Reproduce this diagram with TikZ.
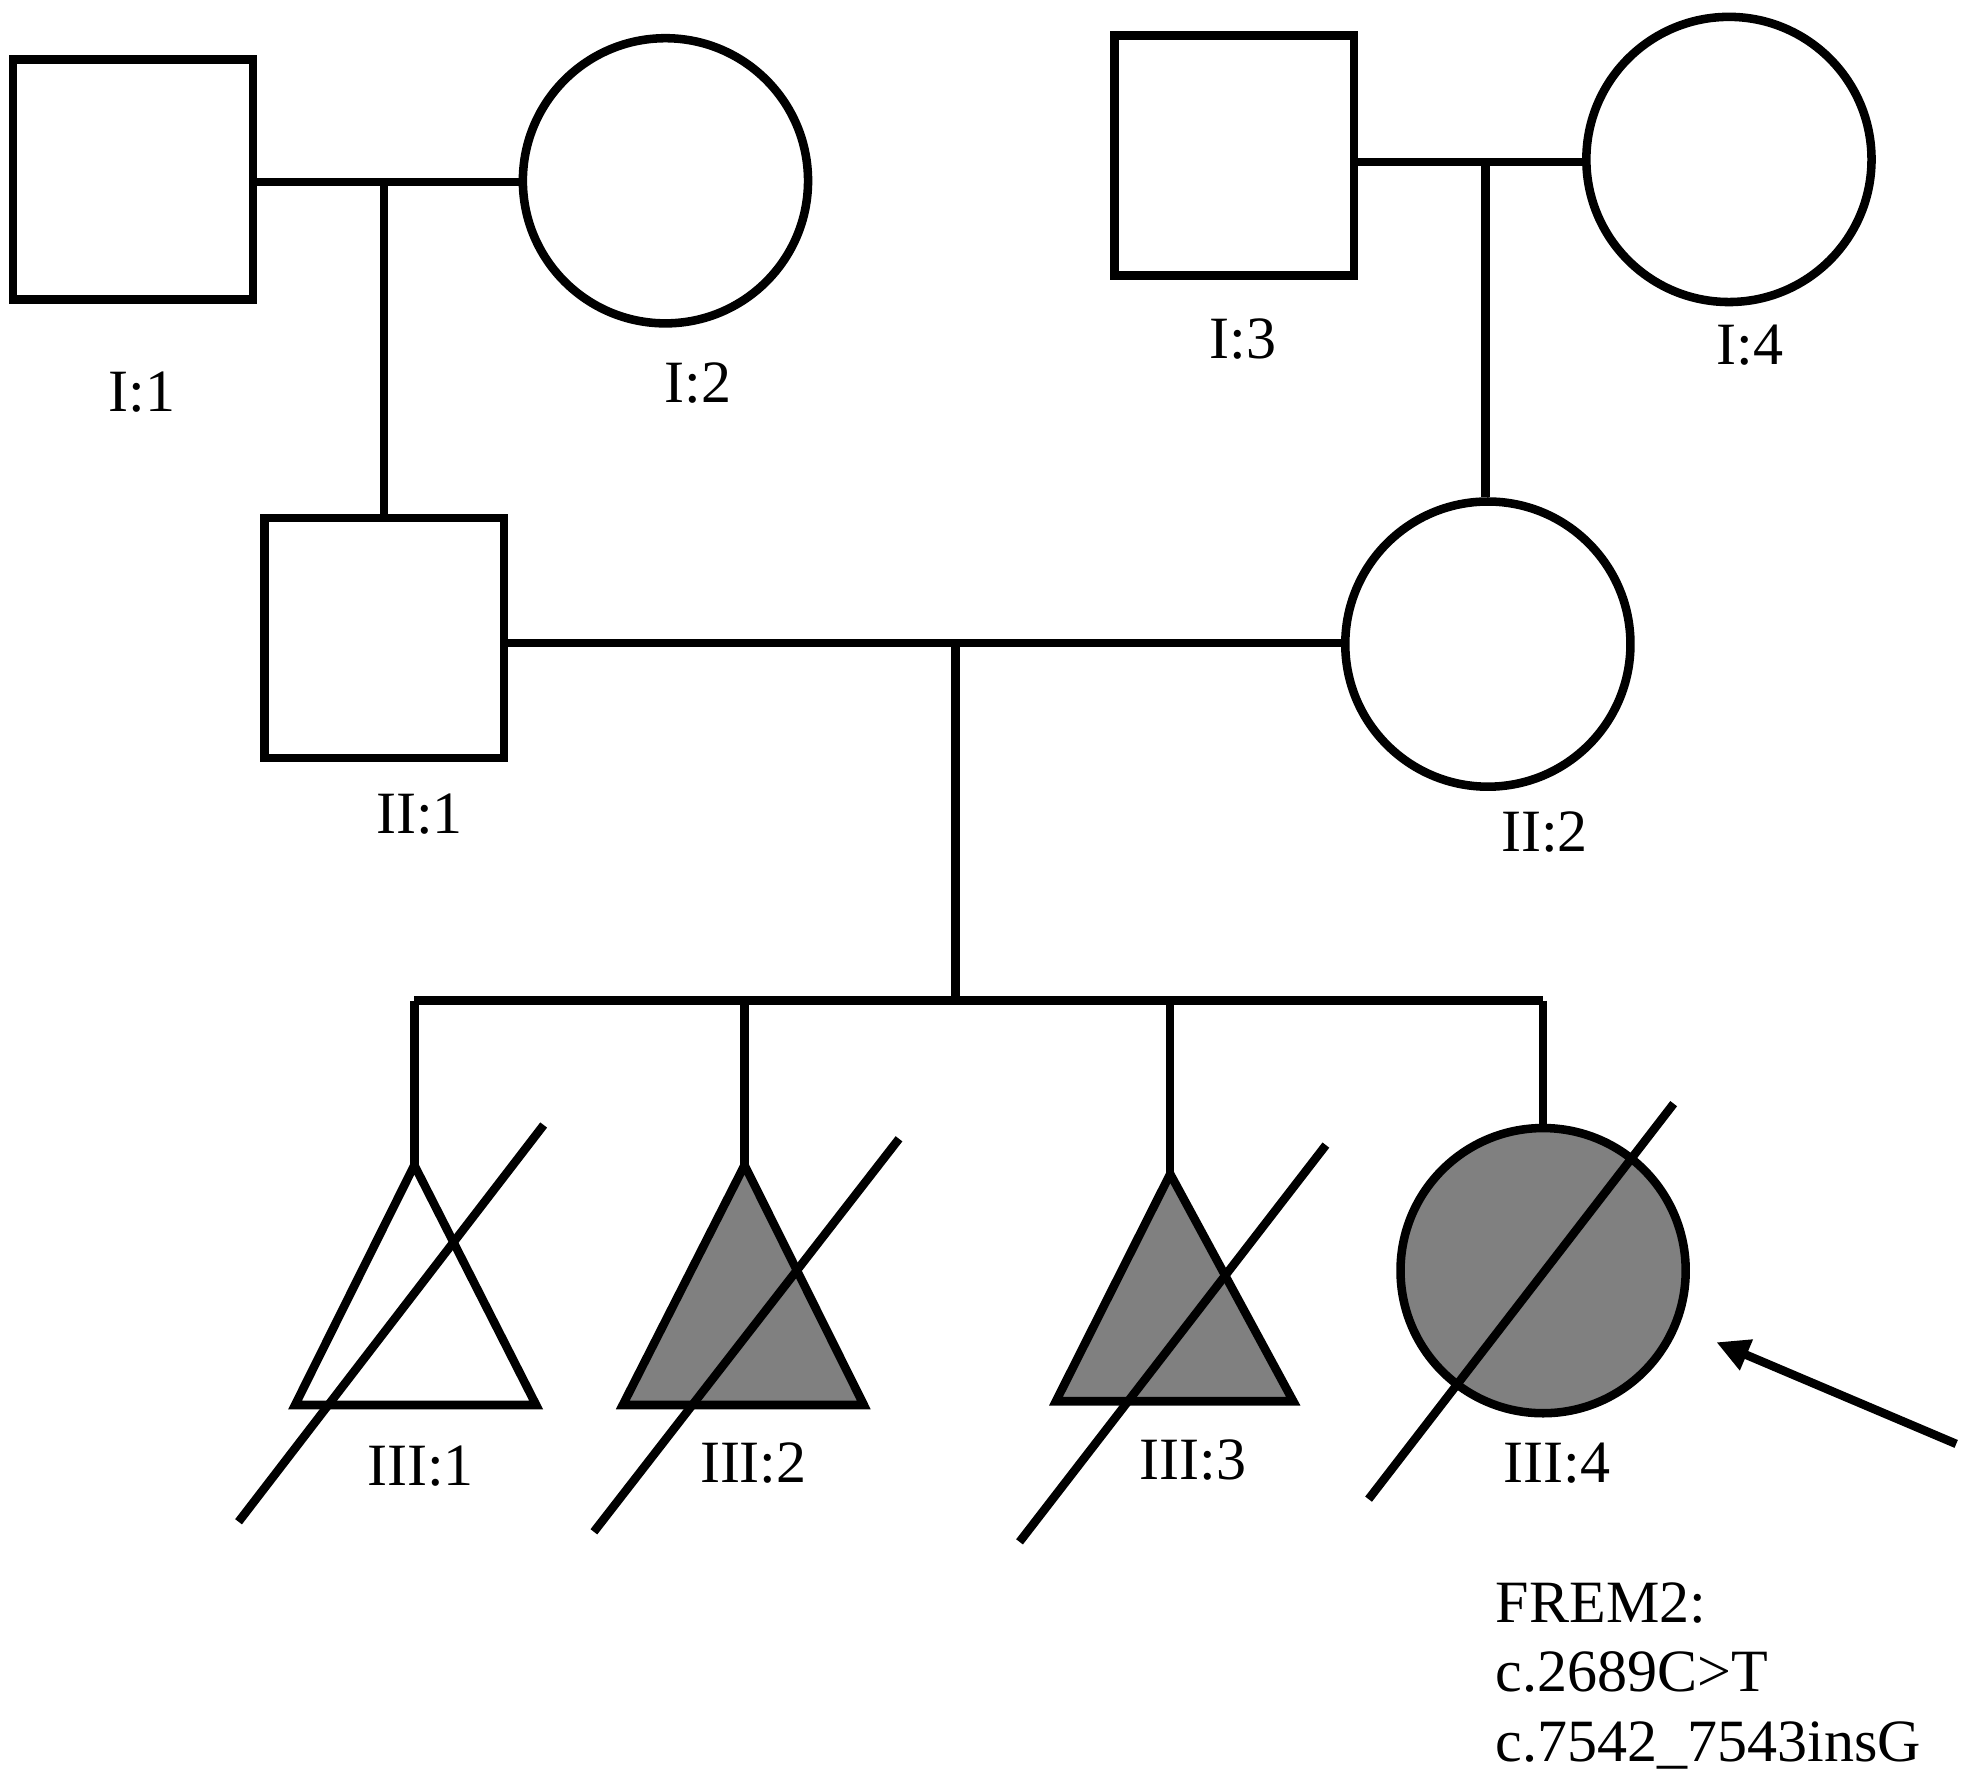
\documentclass[tikz,border=0pt]{standalone}
\usepackage{fontspec}
\setmainfont{Liberation Serif}
\usetikzlibrary{arrows.meta}
\begin{document}
\begin{tikzpicture}[x=0.01cm,y=-0.01cm, line width=0.068cm,
  sq/.style={draw, rectangle, minimum size=1.91cm, inner sep=0pt},
  ci/.style={draw, circle, minimum size=2.27cm, inner sep=0pt},
  lbl/.style={font=\fontsize{13.6}{16}\selectfont, inner sep=0pt},
  aff/.style={fill={rgb,255:red,128;green,128;blue,128}},
  tri/.style={draw, line join=miter},
  slash/.style={draw}]
\useasboundingbox (0,0) rectangle (1565,1419);
% generation I
\node[sq] (i1) at (106,143) {};
\node[ci] (i2) at (530,144) {};
\node[sq] (i3) at (983,124) {};
\node[ci] (i4) at (1377,127) {};
\node[lbl] (l11) at (113,312) {I:1};
\node[lbl] (l12) at (556,305) {I:2};
\node[lbl] (l13) at (990,270) {I:3};
\node[lbl] (l14) at (1394,275) {I:4};
% generation II
\node[sq] (ii1) at (306,508) {};
\node[ci] (ii2) at (1185,513) {};
\node[lbl] (l21) at (334,648) {II:1};
\node[lbl] (l22) at (1230,663) {II:2};
% marriages and descents
\coordinate (m1) at (306,145);
\draw (i1.east |- m1) -- (i2.west |- m1);
\draw (m1) -- (ii1.north);
\coordinate (m2) at (1183,129);
\draw (i3.east |- m2) -- (i4.west |- m2);
\draw (m2) -- (m2 |- ii2.north);
\coordinate (m3) at (761,512);
\draw (ii1.east |- m3) -- (ii2.west |- m3);
\coordinate (s0) at (761,797);
\draw (m3) -- (s0);
% sibship
\coordinate (a1) at (330,928);
\coordinate (a2) at (593,928);
\coordinate (a3) at (932,935);
\node[ci, aff] (iii4) at (1229,1012) {};
\coordinate (s1) at (330,797);
\coordinate (s4) at (iii4.north |- s0);
\draw (s1) -- (s4);
\draw (s1) -- (a1);
\draw (a2 |- s0) -- (a2);
\draw (a3 |- s0) -- (a3);
\draw (s4) -- (iii4.north);
% triangles
\draw[tri] (a1) -- (235,1119) -- (427,1119) -- cycle;
\draw[tri, aff] (a2) -- (496,1119) -- (688,1119) -- cycle;
\draw[tri, aff] (a3) -- (841,1116) -- (1030,1116) -- cycle;
% deceased slashes
\coordinate (d1a) at (190,1212); \coordinate (d1b) at (433,896);
\coordinate (d2a) at (473,1220); \coordinate (d2b) at (716,907);
\coordinate (d3a) at (812,1228); \coordinate (d3b) at (1056,912);
\coordinate (d4a) at (1090,1194); \coordinate (d4b) at (1333,879);
\draw[slash] (d1a) -- (d1b);
\draw[slash] (d2a) -- (d2b);
\draw[slash] (d3a) -- (d3b);
\draw[slash] (d4a) -- (d4b);
% labels III
\node[lbl] (l31) at (335,1168) {III:1};
\node[lbl] (l32) at (600,1165) {III:2};
\node[lbl] (l33) at (950,1163) {III:3};
\node[lbl] (l34) at (1240,1165) {III:4};
% proband arrow
\coordinate (p0) at (1558,1150);
\coordinate (p1) at (1367,1069);
\draw[-{Triangle[length=0.26cm,width=0.25cm]}] (p0) -- (p1);
% mutation text
\node[lbl, anchor=base west] (t1) at (1188,1292) {FREM2:};
\node[lbl, anchor=base west] (t2) at (1188,1347) {c.2689C>T};
\node[lbl, anchor=base west] (t3) at (1188,1403) {c.7542\_7543insG};
\end{tikzpicture}
\end{document}
